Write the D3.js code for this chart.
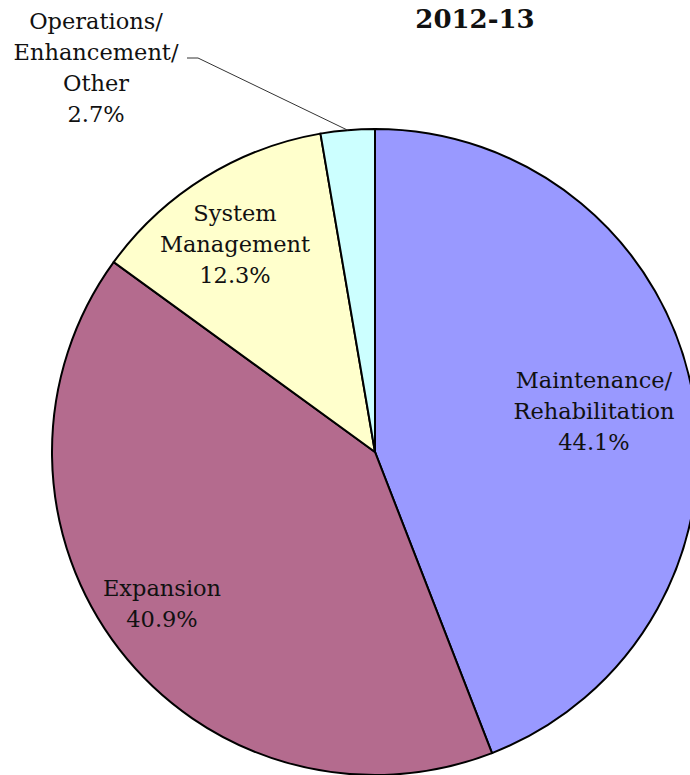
<!DOCTYPE html>
<html>
<head>
<meta charset="utf-8">
<script src="https://cdn.jsdelivr.net/npm/d3@7"></script>
<style>
  body { margin: 0; background: #fff; }
  svg text { font-family: "DejaVu Serif", serif; fill: #111; }
  .slice { stroke: #000; stroke-width: 2; }
  .label { font-size: 22.5px; }
  .title { font-size: 26px; font-weight: bold; }
  .leader { stroke: #333; stroke-width: 1; fill: none; }
</style>
</head>
<body>
<svg class="chart" width="690" height="775"></svg>
<script>
// dados
const categories = ['Maintenance/\nRehabilitation', 'Expansion', 'System\nManagement', 'Operations/\nEnhancement/\nOther'];
const values = [44.1, 40.9, 12.3, 2.7];
const sliceColors = ['#9999ff', '#b46b8e', '#ffffcc', '#ccffff'];
const title = '2012-13';

// layout
const w = 690, h = 775;
const cx = 375, cy = 452, r = 323;
const lineH = 31;
// posição dos rótulos em relação ao centro (x do centro do texto, baseline da 1a linha)
const labelPos = [
  [219, -64],   // maintenance
  [-213, 144],  // expansion
  [-140, -231], // system
  [-279, -423]  // operations (fora do pie)
];

const svg = d3.select('svg.chart');
const g = svg.append('g').attr('transform', `translate(${cx},${cy})`);

const pie = d3.pie().sort(null).value(d => d);
const arcs = pie(values);
const arc = d3.arc().innerRadius(0).outerRadius(r);

g.selectAll('path.slice')
  .data(arcs)
  .join('path')
  .classed('slice', true)
  .attr('d', arc)
  .attr('fill', (d, i) => sliceColors[i]);

// rótulos
arcs.forEach((d, i) => {
  const lines = categories[i].split('\n').concat([d3.format('.1f')(values[i]) + '%']);
  const t = g.append('text')
    .classed('label', true)
    .attr('text-anchor', 'middle')
    .attr('x', labelPos[i][0])
    .attr('y', labelPos[i][1]);
  lines.forEach((ln, j) => {
    t.append('tspan').attr('x', labelPos[i][0]).attr('dy', j == 0 ? 0 : lineH).text(ln);
  });
});

// linha de chamada da fatia pequena
const small = arcs[3];
const mid = (small.startAngle + small.endAngle) / 2;
const end = [r * Math.sin(mid), -r * Math.cos(mid)];
const ly = labelPos[3][1] + lineH - 2;
g.append('path')
  .classed('leader', true)
  .attr('d', d3.line()([[-188, ly], [-177, ly], end]));

svg.append('text')
  .classed('title', true)
  .attr('text-anchor', 'middle')
  .attr('x', 475)
  .attr('y', 28)
  .text(title);
</script>
</body>
</html>
